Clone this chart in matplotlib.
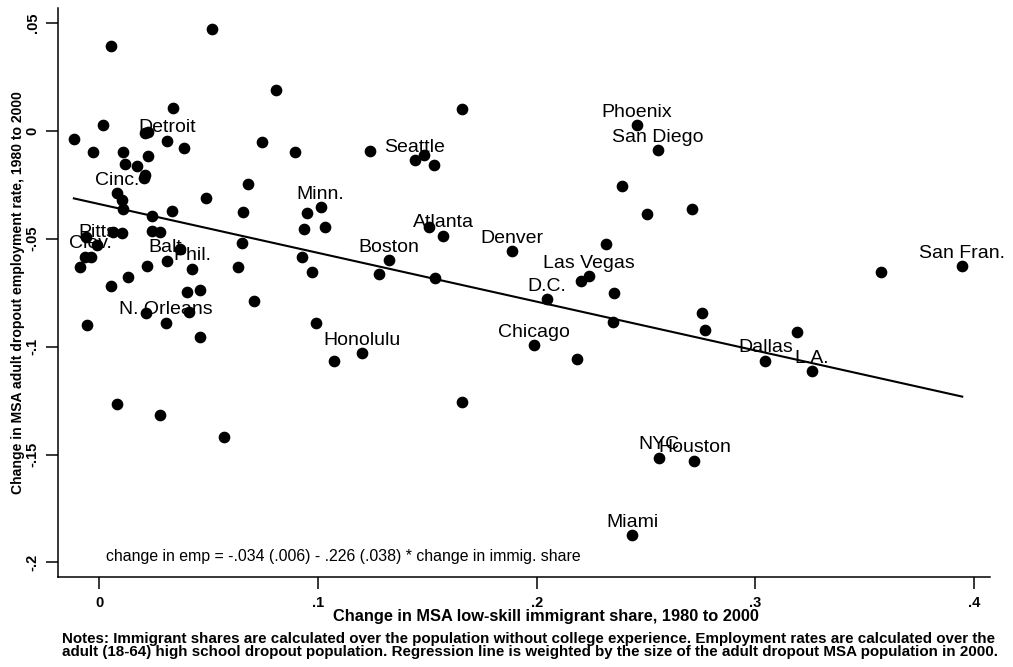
import matplotlib.pyplot as plt
import numpy as np

plt.rcParams['font.family'] = ['Liberation Sans', 'DejaVu Sans']

# change in low-skill immigrant share, 1980-2000, by MSA
imm_share = [
    -0.0116, 0.0054, 0.0514, 0.0019, -0.0027, 0.0337, 0.0807, 0.0209, 0.0224, 0.0311,
    0.0387, 0.0107, 0.0225, 0.0118, 0.0172, 0.0209, 0.0204, 0.0745, 0.0896, 0.0681,
    0.0082, 0.0105, 0.0107, 0.0241, 0.0332, 0.0488, 0.0656, 0.0951, 0.1012, 0.0937,
    0.1031, 0.0064, 0.0103, 0.0241, 0.0280, -0.0061, -0.0009, -0.0065, -0.0039, -0.0088,
    0.0220, 0.0312, 0.0370, 0.0424, 0.0654, 0.0634, 0.0925, 0.0973, 0.0133, 0.0055,
    0.0403, 0.0460, 0.0707, 0.0216, 0.0412, -0.0056, 0.0306, 0.0459, 0.0989, 0.1075,
    0.0080, 0.0279, 0.0572, 0.1660, 0.1239, 0.1442, 0.1485, 0.1532, 0.2457, 0.2555,
    0.2390, 0.2504, 0.1506, 0.1573, 0.1886, 0.1326, 0.1277, 0.1534, 0.2318, 0.2201,
    0.2239, 0.2355, 0.2048, 0.2349, 0.1203, 0.1988, 0.2186, 0.1657, 0.2559, 0.2721,
    0.2437, 0.2710, 0.3574, 0.3946, 0.2754, 0.2770, 0.3192, 0.3046, 0.3257,
]

# change in adult dropout employment rate, 1980-2000
emp_change = [
    -0.0040, 0.0394, 0.0469, 0.0026, -0.0100, 0.0104, 0.0187, -0.0012, -0.0005, -0.0046,
    -0.0079, -0.0099, -0.0116, -0.0156, -0.0166, -0.0205, -0.0220, -0.0054, -0.0097, -0.0247,
    -0.0290, -0.0319, -0.0363, -0.0395, -0.0373, -0.0310, -0.0378, -0.0382, -0.0355, -0.0454,
    -0.0444, -0.0471, -0.0475, -0.0467, -0.0471, -0.0494, -0.0529, -0.0583, -0.0583, -0.0630,
    -0.0625, -0.0602, -0.0548, -0.0639, -0.0519, -0.0632, -0.0586, -0.0656, -0.0680, -0.0721,
    -0.0749, -0.0740, -0.0787, -0.0845, -0.0838, -0.0902, -0.0889, -0.0957, -0.0889, -0.1067,
    -0.1267, -0.1315, -0.1419, 0.0100, -0.0094, -0.0136, -0.0113, -0.0160, 0.0026, -0.0091,
    -0.0256, -0.0384, -0.0447, -0.0486, -0.0557, -0.0600, -0.0665, -0.0682, -0.0526, -0.0696,
    -0.0674, -0.0750, -0.0779, -0.0884, -0.1031, -0.0995, -0.1057, -0.1257, -0.1515, -0.1529,
    -0.1875, -0.0363, -0.0656, -0.0628, -0.0845, -0.0923, -0.0931, -0.1066, -0.1115,
]

# names shown for the larger metro areas (blank = unlabeled)
city = [""] * len(imm_share)
for i, name in {
    9: "Detroit", 20: "Cinc.", 28: "Minn.", 36: "Pitts", 38: "Clev.", 41: "Balt.",
    43: "Phil.", 56: "N. Orleans", 65: "Seattle", 68: "Phoenix", 69: "San Diego",
    73: "Atlanta", 74: "Denver", 75: "Boston", 80: "Las Vegas", 82: "D.C.",
    84: "Honolulu", 85: "Chicago", 88: "NYC", 89: "Houston", 90: "Miami",
    93: "San Fran.", 97: "Dallas", 98: "L.A.",
}.items():
    city[i] = name

# weighted regression reported in the figure
intercept = -0.034
slope = -0.226

x_ticks = [0, 0.1, 0.2, 0.3, 0.4]
x_tick_labels = ["0", ".1", ".2", ".3", ".4"]
y_ticks = [-0.2, -0.15, -0.1, -0.05, 0, 0.05]
y_tick_labels = ["-.2", "-.15", "-.1", "-.05", "0", ".05"]

fig = plt.figure(figsize=(10.13, 6.67), dpi=100)
ax = fig.add_axes([0.0576, 0.135, 0.9197, 0.853])

ax.plot(imm_share, emp_change, 'o', color='black', markersize=7.4, linestyle='none')

line_x = np.array([min(imm_share), max(imm_share)])
ax.plot(line_x, intercept + slope * line_x, color='black', linewidth=1.5)

for x, y, name in zip(imm_share, emp_change, city):
    if name:
        ax.annotate(name, (x, y), xytext=(0, 6), textcoords='offset points',
                    ha='center', va='baseline', fontsize=14)

ax.text(0.003, -0.197, "change in emp = -.034 (.006) - .226 (.038) * change in immig. share",
        fontsize=11.4, va='center', ha='left')

ax.set_xlim(-0.0187, 0.4073)
ax.set_ylim(-0.2067, 0.0568)
ax.set_xticks(x_ticks)
ax.set_xticklabels(x_tick_labels, fontweight='bold')
ax.set_yticks(y_ticks)
ax.set_yticklabels(y_tick_labels, rotation=90, va='center', fontweight='bold')

for side in ['top', 'right']:
    ax.spines[side].set_visible(False)
for side in ['left', 'bottom']:
    ax.spines[side].set_linewidth(1.1)
ax.tick_params(axis='both', direction='out', length=8.4, width=1.1, labelsize=10.5)
ax.tick_params(axis='x', pad=5)
ax.tick_params(axis='y', pad=5)

fig.text(18 / 1013, 1 - 293 / 667, "Change in MSA adult dropout employment rate, 1980 to 2000",
         rotation=90, ha='center', va='center', fontsize=10.1, fontweight='bold')
fig.text(545.5 / 1013, 1 - 617 / 667, "Change in MSA low-skill immigrant share, 1980 to 2000",
         ha='center', va='center', fontsize=11.8, fontweight='bold')

fig.text(62 / 1013, 1 - 639 / 667,
         "Notes: Immigrant shares are calculated over the population without college experience. "
         "Employment rates are calculated over the",
         ha='left', va='center', fontsize=10.9, fontweight='bold')
fig.text(62 / 1013, 1 - 652 / 667,
         "adult (18-64) high school dropout population. Regression line is weighted by the size "
         "of the adult dropout MSA population in 2000.",
         ha='left', va='center', fontsize=10.9, fontweight='bold')

fig.savefig("out.png", dpi=100)
